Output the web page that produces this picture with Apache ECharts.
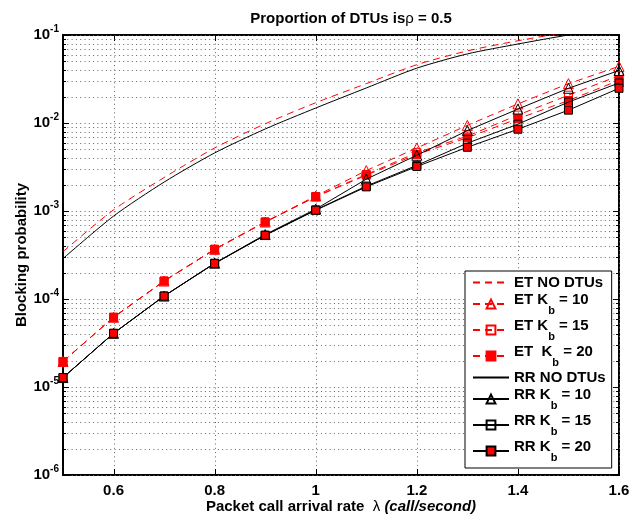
<!DOCTYPE html>
<html>
<head>
<meta charset="utf-8">
<script src="https://cdn.jsdelivr.net/npm/echarts@6/dist/echarts.min.js"></script>
<style>html,body{margin:0;padding:0;background:#fff}#c{width:629px;height:518px}</style>
</head>
<body>
<div id="c"></div>
<script>
// ---- data ----
const xValues = [0.5, 0.6, 0.7, 0.8, 0.9, 1.0, 1.1, 1.2, 1.3, 1.4, 1.5, 1.6];
const etNoDtu = [3.45e-4, 1.03e-3, 2.4e-3, 5.2e-3, 9.8e-3, 1.7e-2, 2.8e-2, 4.6e-2, 6.6e-2, 8.6e-2, 1.08e-1, 1.3e-1];
const etKb10  = [1.95e-5, 6.2e-5, 1.6e-4, 3.67e-4, 7.5e-4, 1.48e-3, 2.88e-3, 5.2e-3, 9.4e-3, 1.65e-2, 2.8e-2, 4.4e-2];
const etKb15  = [1.95e-5, 6.2e-5, 1.6e-4, 3.67e-4, 7.5e-4, 1.46e-3, 2.6e-3, 4.6e-3, 7.1e-3, 1.23e-2, 2.07e-2, 3.45e-2];
const etKb20  = [1.95e-5, 6.2e-5, 1.6e-4, 3.67e-4, 7.5e-4, 1.45e-3, 2.55e-3, 4.4e-3, 6.8e-3, 1.12e-2, 1.8e-2, 3.05e-2];
const rrNoDtu = [2.88e-4, 8.75e-4, 2.13e-3, 4.57e-3, 8.55e-3, 1.48e-2, 2.5e-2, 4.2e-2, 6.1e-2, 7.9e-2, 1.0e-1, 1.22e-1];
const rrKb10  = [1.28e-5, 4.07e-5, 1.08e-4, 2.55e-4, 5.4e-4, 1.05e-3, 2.3e-3, 4.3e-3, 8.2e-3, 1.44e-2, 2.48e-2, 3.95e-2];
const rrKb15  = [1.28e-5, 4.07e-5, 1.08e-4, 2.55e-4, 5.3e-4, 1.03e-3, 1.92e-3, 3.3e-3, 5.9e-3, 9.7e-3, 1.73e-2, 2.85e-2];
const rrKb20  = [1.28e-5, 4.07e-5, 1.08e-4, 2.53e-4, 5.3e-4, 1.02e-3, 1.88e-3, 3.2e-3, 5.3e-3, 8.5e-3, 1.4e-2, 2.48e-2];

// ---- ticks ----
const xTickLabels = [0.6, 0.8, 1.0, 1.2, 1.4, 1.6];
const yDecades = [-6, -5, -4, -3, -2, -1];
const yMinorMultipliers = [1, 2, 3, 4, 5, 6, 7, 8, 9];

const FONT = 'Liberation Sans, Arial, Helvetica, sans-serif';
const RED = '#ff0000';
const CLEAR = 'rgba(0,0,0,0)';

const hLines = [];
yDecades.forEach(e => yMinorMultipliers.forEach(m => {
  const v = m * Math.pow(10, e);
  if (v <= 0.1000001) hLines.push([1.0, v, m === 1 ? 1 : 0]);
}));
const vLines = xTickLabels.map(x => [x, 1e-3]);

function pair(arr) { return xValues.map((x, i) => [x, arr[i]]); }

function mk(name, arr, color, dashed, symbol, fill, border, size, smooth, z) {
  return {
    type: 'line', name: name, data: pair(arr), z: z,
    symbol: symbol, symbolSize: size, showSymbol: symbol !== 'none',
    smooth: smooth || false,
    lineStyle: { color: color, width: 1, type: dashed ? [7, 5] : 'solid' },
    itemStyle: { color: fill, borderColor: border, borderWidth: 1 },
    emphasis: { disabled: true },
    clip: true, silent: true
  };
}

const series = [
  mk('ET NO DTUs', etNoDtu, RED, true, 'none', RED, RED, 0, 0.25, 3),
  mk('ET K_b = 10', etKb10, RED, true, 'triangle', CLEAR, RED, 10, false, 4),
  mk('ET K_b = 15', etKb15, RED, true, 'rect', CLEAR, RED, 8, false, 5),
  mk('ET  K_b = 20', etKb20, RED, true, 'rect', RED, RED, 8, false, 6),
  mk('RR NO DTUs', rrNoDtu, '#000', false, 'none', '#000', '#000', 0, 0.25, 7),
  mk('RR K_b = 10', rrKb10, '#000', false, 'triangle', CLEAR, '#000', 10, false, 8),
  mk('RR K_b = 15', rrKb15, '#000', false, 'rect', CLEAR, '#000', 8, false, 9),
  mk('RR K_b = 20', rrKb20, '#000', false, 'rect', RED, '#000', 8, false, 10)
];

const GRID_DOT = { stroke: '#666', lineWidth: 1, lineDash: [1, 3.3] };

series.unshift({
  type: 'custom', silent: true, z: 1, data: hLines, encode: { x: 0, y: 1 },
  renderItem: function (params, api) {
    const cs = params.coordSys;
    const y = Math.round(api.coord([api.value(0), api.value(1)])[1]) + 0.5;
    const len = api.value(2) === 1 ? 6 : 3;
    return { type: 'group', children: [
      { type: 'line', shape: { x1: cs.x, y1: y, x2: cs.x + cs.width, y2: y }, style: GRID_DOT },
      { type: 'line', shape: { x1: cs.x, y1: y, x2: cs.x + len, y2: y }, style: { stroke: '#000', lineWidth: 1 } },
      { type: 'line', shape: { x1: cs.x + cs.width - len, y1: y, x2: cs.x + cs.width, y2: y }, style: { stroke: '#000', lineWidth: 1 } }
    ]};
  }
});
series.unshift({
  type: 'custom', silent: true, z: 1, data: vLines, encode: { x: 0, y: 1 },
  renderItem: function (params, api) {
    const cs = params.coordSys;
    const x = Math.round(api.coord([api.value(0), api.value(1)])[0]) + 0.5;
    return { type: 'group', children: [
      { type: 'line', shape: { x1: x, y1: cs.y, x2: x, y2: cs.y + cs.height }, style: GRID_DOT },
      { type: 'line', shape: { x1: x, y1: cs.y + cs.height - 6, x2: x, y2: cs.y + cs.height }, style: { stroke: '#000', lineWidth: 1 } },
      { type: 'line', shape: { x1: x, y1: cs.y, x2: x, y2: cs.y + 6 }, style: { stroke: '#000', lineWidth: 1 } }
    ]};
  }
});

const legendNames = ['ET NO DTUs', 'ET K_b = 10', 'ET K_b = 15', 'ET  K_b = 20',
                     'RR NO DTUs', 'RR K_b = 10', 'RR K_b = 15', 'RR K_b = 20'];
const noMarkerNames = ['ET NO DTUs', 'RR NO DTUs'];

const chart = echarts.init(document.getElementById('c'), null, { renderer: 'canvas' });
chart.setOption({
  animation: false,
  backgroundColor: '#fff',
  textStyle: { fontFamily: FONT },
  title: {
    text: '{a|Proportion of DTUs is}{r|ρ}{a| = 0.5}',
    left: 346, top: 6, textAlign: 'center',
    textStyle: { rich: {
      a: { fontFamily: FONT, fontSize: 15, fontWeight: 'bold', color: '#000' },
      r: { fontFamily: FONT, fontSize: 15, fontWeight: 'normal', color: '#000' }
    } }
  },
  grid: { left: 63, right: 10, top: 35, bottom: 43, show: true, borderColor: '#000', borderWidth: 2,
          backgroundColor: 'transparent', containLabel: false, outerBoundsMode: 'none' },
  xAxis: {
    type: 'value', min: 0.5, max: 1.6, interval: 0.1,
    axisLine: { show: false }, axisTick: { show: false }, splitLine: { show: false },
    axisLabel: {
      margin: 8, color: '#000', fontSize: 15, fontWeight: 'bold', fontFamily: FONT,
      showMaxLabel: true, showMinLabel: true,
      formatter: function (v) {
        const r = Math.round(v * 10) / 10;
        return xTickLabels.some(t => Math.abs(t - r) < 1e-6) ? String(r) : '';
      }
    },
    name: '{a|Packet call arrival rate  }{l|λ }{i|(call/second)}',
    nameLocation: 'middle', nameGap: 24, nameMoveOverlap: false,
    nameTextStyle: { rich: {
      a: { fontFamily: FONT, fontSize: 15, fontWeight: 'bold', color: '#000' },
      l: { fontFamily: FONT, fontSize: 15, fontWeight: 'normal', color: '#000' },
      i: { fontFamily: FONT, fontSize: 15, fontWeight: 'bold', fontStyle: 'italic', color: '#000' }
    } }
  },
  yAxis: {
    type: 'log', logBase: 10, min: 1e-6, max: 1e-1,
    axisLine: { show: false }, axisTick: { show: false }, splitLine: { show: false },
    minorTick: { show: false }, minorSplitLine: { show: false },
    axisLabel: {
      margin: 4,
      formatter: function (v) {
        const e = Math.round(Math.log10(v));
        return '{b|10}{s|' + e + '}';
      },
      rich: {
        b: { fontFamily: FONT, fontSize: 15, fontWeight: 'bold', color: '#000', lineHeight: 22 },
        s: { fontFamily: FONT, fontSize: 10, fontWeight: 'bold', color: '#000', lineHeight: 10, verticalAlign: 'top' }
      }
    },
    name: 'Blocking probability', nameLocation: 'middle', nameGap: 34, nameRotate: 90,
    nameMoveOverlap: false,
    nameTextStyle: { fontFamily: FONT, fontSize: 15, fontWeight: 'bold', color: '#000' }
  },
  legend: {
    data: legendNames.map(n => noMarkerNames.indexOf(n) >= 0
      ? { name: n, itemStyle: { color: CLEAR, borderColor: CLEAR, borderWidth: 0 } }
      : { name: n }),
    orient: 'vertical', left: 465, top: 271,
    padding: [4, 6, 5, 7],
    itemWidth: 36, itemHeight: 11, itemGap: 2,
    backgroundColor: '#fff', borderColor: '#000', borderWidth: 1,
    selectedMode: false,
    formatter: function (name) {
      const parts = name.split('K_b');
      if (parts.length === 1) return '{n|' + name + '}';
      return '{t|' + parts[0] + 'K}{s|b}{t|' + parts[1] + '}{h| }';
    },
    textStyle: {
      rich: {
        n: { fontFamily: FONT, fontSize: 15, fontWeight: 'bold', color: '#000', lineHeight: 16 },
        t: { fontFamily: FONT, fontSize: 15, fontWeight: 'bold', color: '#000', lineHeight: 16, verticalAlign: 'top' },
        s: { fontFamily: FONT, fontSize: 11, fontWeight: 'bold', color: '#000', lineHeight: 10, verticalAlign: 'bottom' },
        h: { fontFamily: FONT, fontSize: 2, color: '#000', lineHeight: 24 }
      }
    }
  },
  series: series
});
</script>
</body>
</html>
